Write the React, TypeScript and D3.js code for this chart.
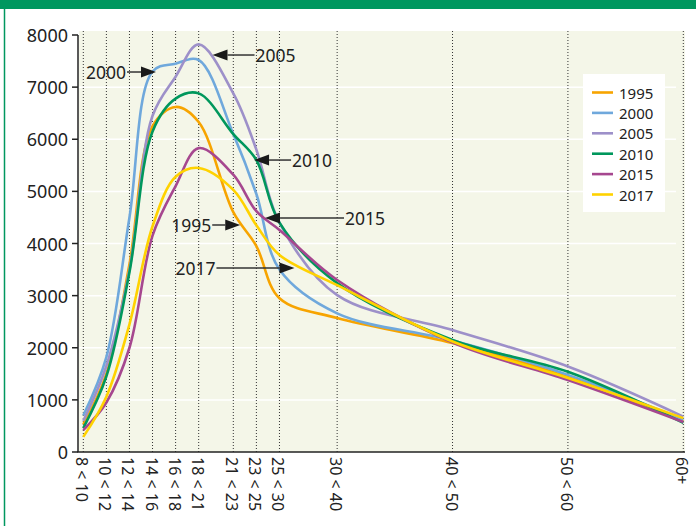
import React from "react";
import * as d3 from "d3";

const categories = ["8 < 10", "10 < 12", "12 < 14", "14 < 16", "16 < 18", "18 < 21", "21 < 23", "23 < 25", "25 < 30", "30 < 40", "40 < 50", "50 < 60", "60+"];
const ageStart = [8, 10, 12, 14, 16, 18, 21, 23, 25, 30, 40, 50, 60];
const yTicks = [0, 1000, 2000, 3000, 4000, 5000, 6000, 7000, 8000];

const s1995 = [530, 1500, 3600, 6250, 6620, 6330, 4600, 3950, 2950, 2570, 2090, 1440, 590];
const s2000 = [700, 1820, 4500, 7300, 7450, 7520, 6100, 4950, 3500, 2660, 2140, 1480, 620];
const s2005 = [600, 1650, 3500, 6450, 7200, 7820, 6880, 5800, 4400, 3010, 2340, 1640, 680];
const s2010 = [460, 1450, 3450, 6150, 6780, 6880, 6100, 5600, 4400, 3240, 2150, 1540, 560];
const s2015 = [420, 950, 2000, 4150, 5100, 5830, 5320, 4620, 4260, 3300, 2100, 1380, 575];
const s2017 = [290, 1060, 2450, 4330, 5280, 5450, 5030, 4350, 3780, 3200, 2120, 1420, 650];

const seriesNames = ["1995", "2000", "2005", "2010", "2015", "2017"];
const seriesValues = [s1995, s2000, s2005, s2010, s2015, s2017];
const seriesColors = ["#f7a400", "#6fa8dc", "#9d90c9", "#00975c", "#a6478f", "#ffd200"];

// annotation: label, arrow tip (age, value), side of text, arrow length in px
const annLabels = ["2000", "2005", "2010", "2015", "1995", "2017"];
const annAge = [14.3, 19.2, 22.8, 23.75, 21.6, 26.3];
const annValue = [7290, 7616, 5601, 4489, 4355, 3530];
const annSide = ["left", "right", "right", "right", "left", "left"];
const annLen = [29, 42, 37, 79, 28, 78];

const W = 696;
const H = 526;
const FONT = "'Noto Sans', 'DejaVu Sans', sans-serif";

export default function App() {
  const x = d3.scaleLinear().domain([8, 60]).range([83.3, 683.3]);
  const y = d3.scaleLinear().domain([0, 8000]).range([452, 35]);
  const axisX = 78;
  const plotTop = 31;
  const plotRight = 685;
  const gridRight = 676;

  const line = d3
    .line<number>()
    .x((_, i) => x(ageStart[i]))
    .y((d) => y(d))
    .curve(d3.curveCatmullRom.alpha(0.5));

  return (
    <svg width={W} height={H} style={{ position: "absolute", left: 0, top: 0 }} fontFamily={FONT}>
      <rect x={0} y={0} width={W} height={H} fill="#ffffff" />
      <rect x={0} y={0} width={W} height={9} fill="#00975f" />
      <line x1={4.5} x2={4.5} y1={9} y2={H} stroke="#00975f" strokeWidth={1.5} />

      <rect x={axisX + 1} y={plotTop} width={plotRight - axisX - 1} height={y(0) - plotTop} fill="#f4f6e8" />

      {yTicks.filter((t) => t > 0 && t < 8000).map((t) => (
        <line key={"g" + t} x1={axisX + 1} x2={gridRight} y1={y(t)} y2={y(t)} stroke="#ffffff" strokeWidth={1.5} />
      ))}

      {ageStart.map((a, i) => (
        <line key={"v" + i} x1={x(a)} x2={x(a)} y1={plotTop} y2={y(0)} stroke="#333" strokeWidth={1} strokeDasharray="1,2" />
      ))}

      {seriesValues.map((vals, i) => (
        <path key={"s" + i} d={line(vals) || ""} fill="none" stroke={seriesColors[i]} strokeWidth={2.6} strokeLinejoin="round" />
      ))}

      {/* axes */}
      <line x1={axisX} x2={axisX} y1={y(8000)} y2={y(0)} stroke="#222" strokeWidth={1.5} />
      <line x1={axisX - 0.75} x2={plotRight} y1={y(0)} y2={y(0)} stroke="#222" strokeWidth={1.5} />
      {yTicks.map((t) => (
        <g key={"yt" + t}>
          <line x1={axisX - 6} x2={axisX} y1={y(t)} y2={y(t)} stroke="#222" strokeWidth={1.5} />
          <text x={axisX - 10} y={y(t)} textAnchor="end" dominantBaseline="central" fontSize={18} fill="#222">
            {t}
          </text>
        </g>
      ))}
      {categories.map((c, i) => (
        <text
          key={"xl" + i}
          transform={`translate(${x(ageStart[i]) - 1},${y(0) + 5}) rotate(90)`}
          textAnchor="start"
          dominantBaseline="central"
          fontSize={16}
          fill="#222"
        >
          {c}
        </text>
      ))}

      {/* annotations */}
      {annLabels.map((lab, i) => {
        const tx = x(annAge[i]);
        const ty = y(annValue[i]);
        const dir = annSide[i] === "left" ? -1 : 1;
        const head = 15;
        const baseX = tx + dir * head;
        const endX = tx + dir * annLen[i];
        return (
          <g key={"a" + i}>
            <line x1={baseX} x2={endX} y1={ty} y2={ty} stroke="#333" strokeWidth={1.5} />
            <path d={`M${tx},${ty} L${baseX},${ty - 5.5} L${baseX},${ty + 5.5} Z`} fill="#1a1a1a" />
            <text
              x={endX + dir * 1}
              y={ty}
              textAnchor={dir < 0 ? "end" : "start"}
              dominantBaseline="central"
              fontSize={17.5}
              fill="#222"
            >
              {lab}
            </text>
          </g>
        );
      })}

      {/* legend */}
      <rect x={583} y={74} width={82} height={138} fill="#ffffff" />
      {seriesNames.map((n, i) => (
        <g key={"lg" + i}>
          <line x1={592} x2={613} y1={92.5 + i * 20.4} y2={92.5 + i * 20.4} stroke={seriesColors[i]} strokeWidth={2.6} />
          <text x={619} y={92.5 + i * 20.4} dominantBaseline="central" fontSize={15} fill="#222">
            {n}
          </text>
        </g>
      ))}
    </svg>
  );
}
